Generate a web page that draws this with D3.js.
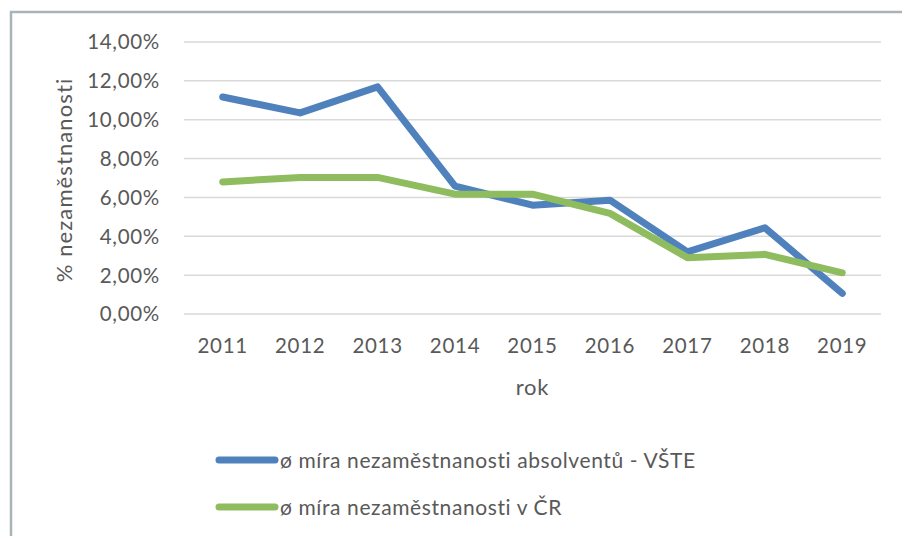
<!DOCTYPE html>
<html>
<head>
<meta charset="utf-8">
<script src="https://cdn.jsdelivr.net/npm/d3@7"></script>
<style>
  body { margin: 0; background: #fff; }
  text { font-family: Lato, "Open Sans", sans-serif; fill: #595959; }
</style>
</head>
<body>
<svg id="chart" width="902" height="536"></svg>
<script>
// data
var years = ["2011", "2012", "2013", "2014", "2015", "2016", "2017", "2018", "2019"];
var vste = [11.17, 10.35, 11.69, 6.58, 5.6, 5.86, 3.2, 4.44, 1.06];
var cr = [6.8, 7.03, 7.03, 6.17, 6.17, 5.18, 2.9, 3.07, 2.12];
var yTicks = [0, 2, 4, 6, 8, 10, 12, 14];
var seriesNames = ["ø míra nezaměstnanosti absolventů - VŠTE", "ø míra nezaměstnanosti v ČR"];
var seriesColors = ["#4f81bd", "#8fbc5e"];

var svg = d3.select("#chart");
var margin = {top: 42, left: 184, right: 21, bottom: 222};
var width = 902 - margin.left - margin.right,
    height = 536 - margin.top - margin.bottom;

// outer frame
svg.append("path")
   .attr("d", "M11,536 L11,12 L902,12")
   .attr("fill", "none")
   .attr("stroke", "#aab2ba")
   .attr("stroke-width", 2.5);

var g = svg.append("g")
           .attr("transform", "translate(" + margin.left + "," + margin.top + ")");

var x = d3.scaleBand().domain(years).range([0, width]);
var y = d3.scaleLinear().domain([0, 14]).range([height, 0]);

// grid
g.selectAll(".grid").data(yTicks)
  .enter().append("line")
  .attr("x1", 0).attr("x2", width)
  .attr("y1", function(d){ return y(d); })
  .attr("y2", function(d){ return y(d); })
  .attr("stroke", "#d9d9d9")
  .attr("stroke-width", 1.5);

// y labels
var fmt = function(d){ return d.toFixed(2).replace(".", ",") + "%"; };
g.selectAll(".ylab").data(yTicks)
  .enter().append("text")
  .attr("x", -24)
  .attr("y", function(d){ return y(d); })
  .attr("dy", "0.36em")
  .attr("text-anchor", "end")
  .style("font-size", "20.5px")
  .style("letter-spacing", "0.7px")
  .text(fmt);

// x labels
g.selectAll(".xlab").data(years)
  .enter().append("text")
  .attr("x", function(d){ return x(d) + x.bandwidth() / 2; })
  .attr("y", height + 39)
  .attr("text-anchor", "middle")
  .style("font-size", "20.5px")
  .style("letter-spacing", "0.7px")
  .text(function(d){ return d; });

// axis titles
g.append("text")
  .attr("x", width / 2)
  .attr("y", height + 81)
  .attr("text-anchor", "middle")
  .style("font-size", "22px")
  .style("letter-spacing", "0.8px")
  .text("rok");

svg.append("text")
  .attr("transform", "translate(72,180) rotate(-90)")
  .attr("text-anchor", "middle")
  .style("font-size", "22px")
  .style("letter-spacing", "1.1px")
  .text("% nezaměstnanosti");

// lines
var line = d3.line()
  .x(function(d, i){ return x(years[i]) + x.bandwidth() / 2; })
  .y(function(d){ return y(d); });

[vste, cr].forEach(function(s, i) {
  g.append("path")
    .datum(s)
    .attr("fill", "none")
    .attr("stroke", seriesColors[i])
    .attr("stroke-width", 7)
    .attr("stroke-linejoin", "round")
    .attr("stroke-linecap", "round")
    .attr("d", line);
});

// legend
var legend = svg.append("g").attr("transform", "translate(219,460)");
seriesNames.forEach(function(n, i) {
  var row = legend.append("g").attr("transform", "translate(0," + (i * 47) + ")");
  row.append("line")
     .attr("x1", 0).attr("x2", 56)
     .attr("stroke", seriesColors[i])
     .attr("stroke-width", 7)
     .attr("stroke-linecap", "round");
  row.append("text")
     .attr("x", 61)
     .attr("dy", "0.36em")
     .style("font-size", "21px")
     .style("letter-spacing", "0.6px")
     .text(n);
});
</script>
</body>
</html>
